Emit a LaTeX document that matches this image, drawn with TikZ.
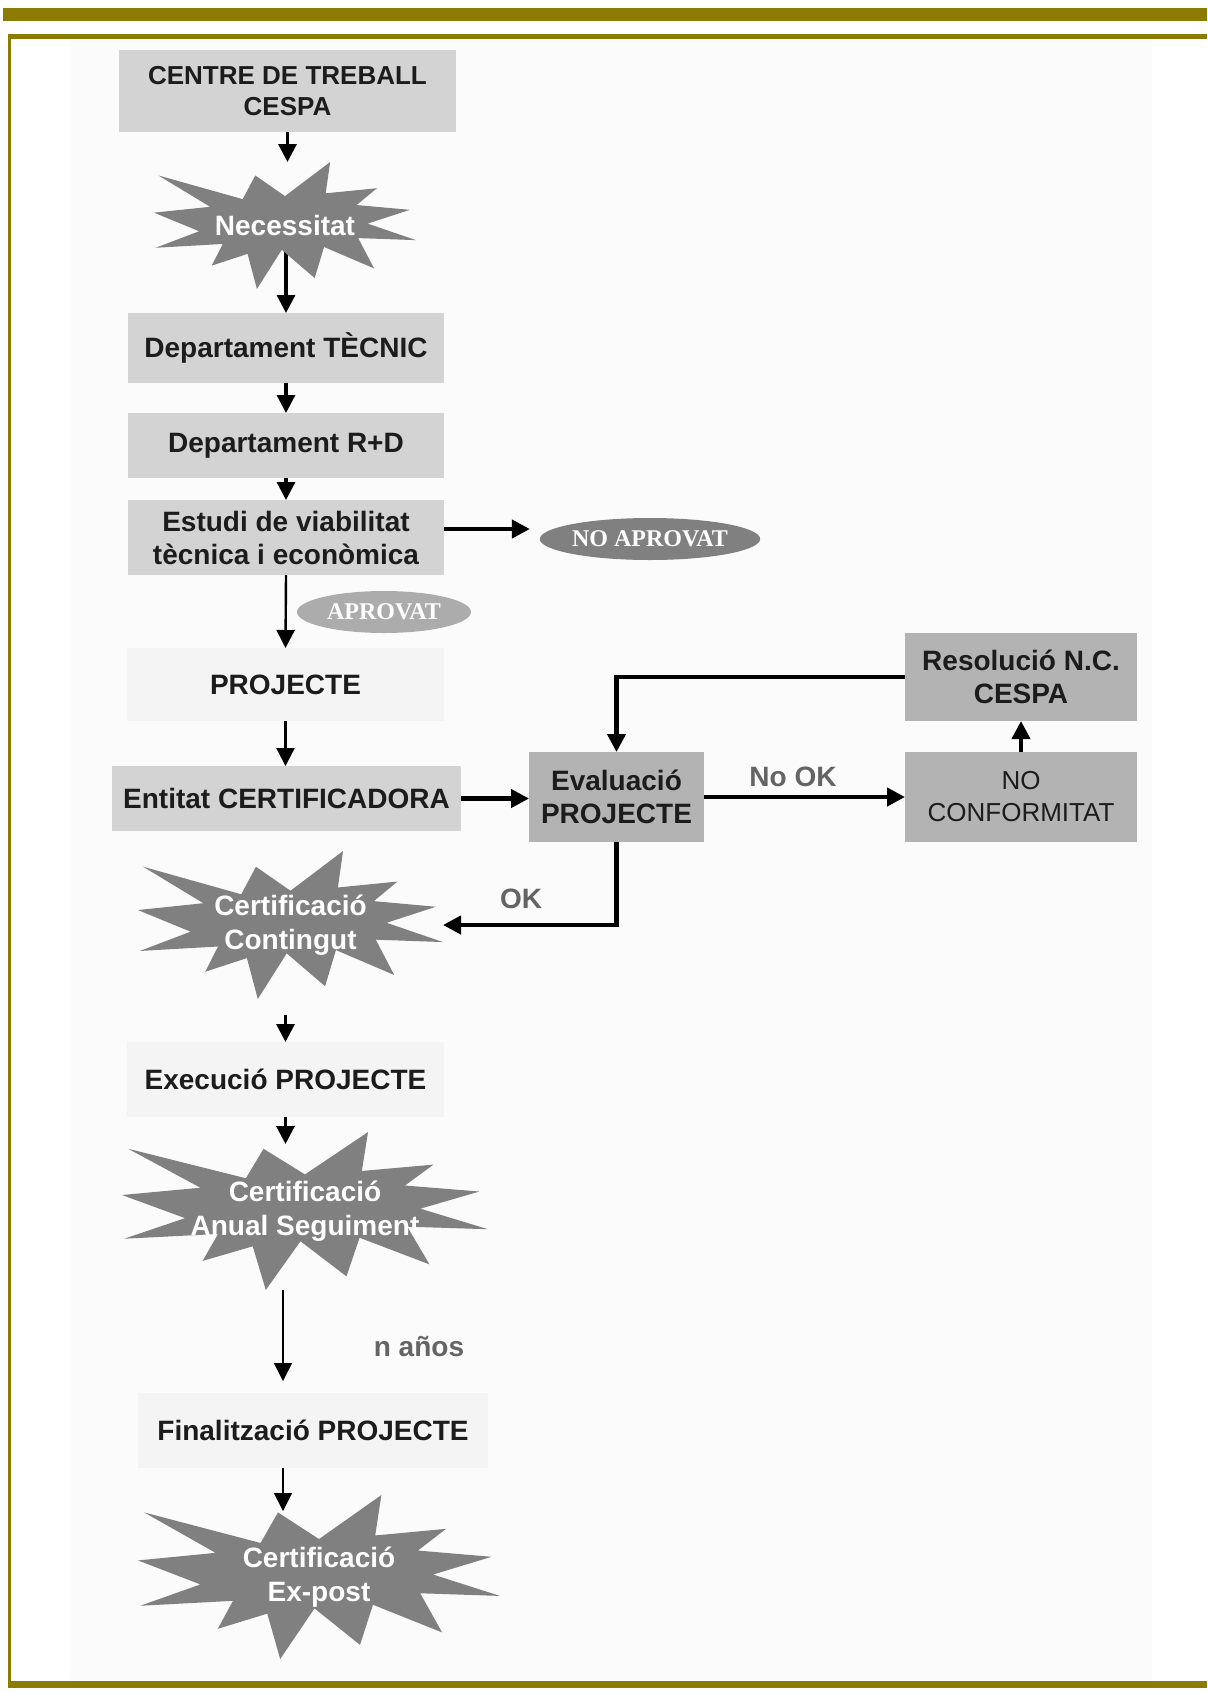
\documentclass[tikz,border=0pt]{standalone}
\usepackage{fontspec}
\setmainfont{Liberation Sans}
\newfontfamily\ovalfont{Liberation Serif}
\usetikzlibrary{arrows.meta,shapes.geometric,calc}

\pgfdeclarelayer{panel}
\pgfdeclarelayer{wires}
\pgfsetlayers{panel,wires,main}

\definecolor{olive}{RGB}{139,123,0}
\definecolor{panelgray}{RGB}{251,251,251}
\definecolor{boxlight}{RGB}{211,211,211}
\definecolor{boxpale}{RGB}{244,244,244}
\definecolor{boxdark}{RGB}{179,179,179}
\definecolor{burstgray}{RGB}{128,128,128}
\definecolor{ovaldark}{RGB}{128,128,128}
\definecolor{ovallight}{RGB}{172,172,172}
\definecolor{inktext}{RGB}{28,28,28}
\definecolor{labelgray}{RGB}{100,100,100}

\tikzset{
  % a node covering the pixel box (x1,y1)-(x2,y2)
  span/.style n args={4}{minimum width={(#3-#1)*0.5pt}, minimum height={(#4-#2)*0.5pt},
    at={({(#1+#3)/2},{(#2+#4)/2})}},
  stage/.style={rectangle, inner sep=0pt, outer sep=0pt, align=center,
    font=\bfseries\fontsize{14}{16.5}\selectfont, text=inktext},
  lightbox/.style={stage, fill=boxlight},
  palebox/.style={stage, fill=boxpale},
  darkbox/.style={stage, fill=boxdark},
  bursttext/.style={rectangle, inner sep=0pt, outer sep=0pt, align=center,
    font=\bfseries\fontsize{14}{17}\selectfont, text=white},
  verdict/.style={ellipse, inner sep=0pt, outer sep=0pt, text=white,
    font=\ovalfont\bfseries\fontsize{12}{14}\selectfont},
  flowlabel/.style={inner sep=0pt, text=labelgray,
    font=\bfseries\fontsize{14}{16}\selectfont},
  shortarrow/.style={draw=black, line width=1.6pt, -{Triangle[width=9pt,length=9pt]}},
  heavyarrow/.style={draw=black, line width=2.1pt, -{Triangle[width=9pt,length=9pt]}},
  midarrow/.style={draw=black, line width=1.2pt, -{Triangle[width=9pt,length=9pt]}},
  thinarrow/.style={draw=black, line width=0.8pt, -{Triangle[width=9pt,length=9pt]}},
}

% explosion-shaped badge: name, x1, y1, x2, y2, text
\newcommand\burstnode[6]{%
  \pgfmathsetmacro\burstsx{(#4-#2)/216}%
  \pgfmathsetmacro\burstsy{(#5-#3)/216}%
  \fill[burstgray, shift={(#2,#3)}, xscale=\burstsx, yscale=\burstsy]
    (108,58) -- (145.22,0) -- (141.55,53.25) -- (183.80,44.57) -- (167.02,73.15)
    -- (210.97,81.37) -- (176.07,104.75) -- (216,132.90) -- (168.37,129.42)
    -- (181.45,180.95) -- (140.20,144.57) -- (132.47,197.37) -- (105.32,149.35)
    -- (84.85,216) -- (77.15,156.27) -- (47.62,176.17) -- (56.67,139.37)
    -- (1.35,145.87) -- (37.22,117.75) -- (0,86.15) -- (46.27,76.17)
    -- (3.70,22.95) -- (73.12,63.20) -- (83.52,22.95) -- cycle;
  \node[bursttext, span={#2}{#3}{#4}{#5}] (#1) {#6};
}

\begin{document}
\begin{tikzpicture}[x=0.5pt,y=-0.5pt]
\useasboundingbox (0,0) rectangle (1207,1693);

% page frame
\begin{pgfonlayer}{panel}
  \fill[white] (0,0) rectangle (1207,1693);
  \fill[panelgray] (70,39) rectangle (1152,1681);
  \fill[olive] (3,8) rectangle (1207,21);
  \fill[olive] (8,34) rectangle (1207,39);
  \fill[olive] (8,34) rectangle (10.5,1688);
  \fill[olive] (8,1681) rectangle (1207,1688);
\end{pgfonlayer}

% main column
\node[lightbox, font=\bfseries\fontsize{13}{15.5}\selectfont,
      span={119}{50}{456}{132}] (centre) {CENTRE DE TREBALL\\CESPA};
\burstnode{nec}{154}{162}{416}{289}{Necessitat}
\node[lightbox, span={128}{313}{444}{383}] (tec) {Departament TÈCNIC};
\node[lightbox, span={128}{413}{444}{478}] (rd) {Departament R+D};
\node[lightbox, span={128}{500}{444}{575}] (est) {Estudi de viabilitat\\tècnica i econòmica};
\node[verdict, fill=ovaldark, minimum width=109pt, minimum height=21pt] (noap) at (650,539) {NO APROVAT};
\node[verdict, fill=ovallight, minimum width=87pt, minimum height=21pt] (aprov) at (384,612) {APROVAT};
\node[palebox, span={127}{648}{444}{721}] (proj) {PROJECTE};
\node[lightbox, span={112}{766}{461}{831}] (ent) {Entitat CERTIFICADORA};

% evaluation loop
\node[darkbox, span={529}{752}{704}{842}] (eva) {Evaluació\\PROJECTE};
\node[darkbox, font=\fontsize{13}{16}\selectfont, span={905}{752}{1137}{842}] (noc) {NO\\CONFORMITAT};
\node[darkbox, span={905}{633}{1137}{721}] (res) {Resolució N.C.\\CESPA};

\burstnode{cont}{138}{851}{443}{999}{Certificació\\Contingut}
\node[palebox, span={127}{1042}{444}{1117}] (exe) {Execució PROJECTE};
\burstnode{anu}{122}{1132}{488}{1290}{Certificació\\Anual Seguiment}
\node[palebox, span={138}{1393}{488}{1468}] (fin) {Finalització PROJECTE};
\burstnode{exp}{138}{1495}{500}{1659}{Certificació\\Ex-post}

% labels
\node[flowlabel] (lblnook) at (793,777) {No OK};
\node[flowlabel] (lblok) at (521,899) {OK};
\node[flowlabel] (lblyears) at (419,1347) {n años};

% helper points
\coordinate (noapin) at ([yshift=5pt,xshift=-5pt]noap.west);
\coordinate (anuout) at ([xshift=-11pt]anu.south);
\coordinate (finout) at ([xshift=-15pt]fin.south);

% connectors
\begin{pgfonlayer}{wires}
  \draw[shortarrow] (centre.south) -- (centre.south |- nec.north);
  \draw[shortarrow] (tec.north |- nec.center) -- (tec.north);
  \draw[shortarrow] (tec.south) -- (rd.north);
  \draw[shortarrow] (rd.south) -- (est.north);
  \draw[heavyarrow] (est.east |- noapin) -- (noapin);
  \draw[midarrow] (est.south) -- (proj.north);
  \draw[midarrow] (proj.south) -- (proj.south |- ent.north);
  \draw[heavyarrow] (ent.east) -- (ent.east -| eva.west);
  \draw[heavyarrow] (eva.east) -- (noc.west);
  \draw[heavyarrow] (noc.north) -- (res.south);
  \draw[heavyarrow] (res.west) -| (eva.north);
  \draw[heavyarrow] (eva.south) |- (cont.east);
  \draw[shortarrow, shorten <=8pt] (exe.north |- cont.south) -- (exe.north);
  \draw[shortarrow, shorten >=-6pt] (exe.south) -- (exe.south |- anu.north);
  \draw[thinarrow, shorten >=6pt] (anuout) -- (anuout |- fin.north);
  \draw[thinarrow, shorten >=-8pt] (finout) -- (finout |- exp.north);
\end{pgfonlayer}
\end{tikzpicture}
\end{document}
